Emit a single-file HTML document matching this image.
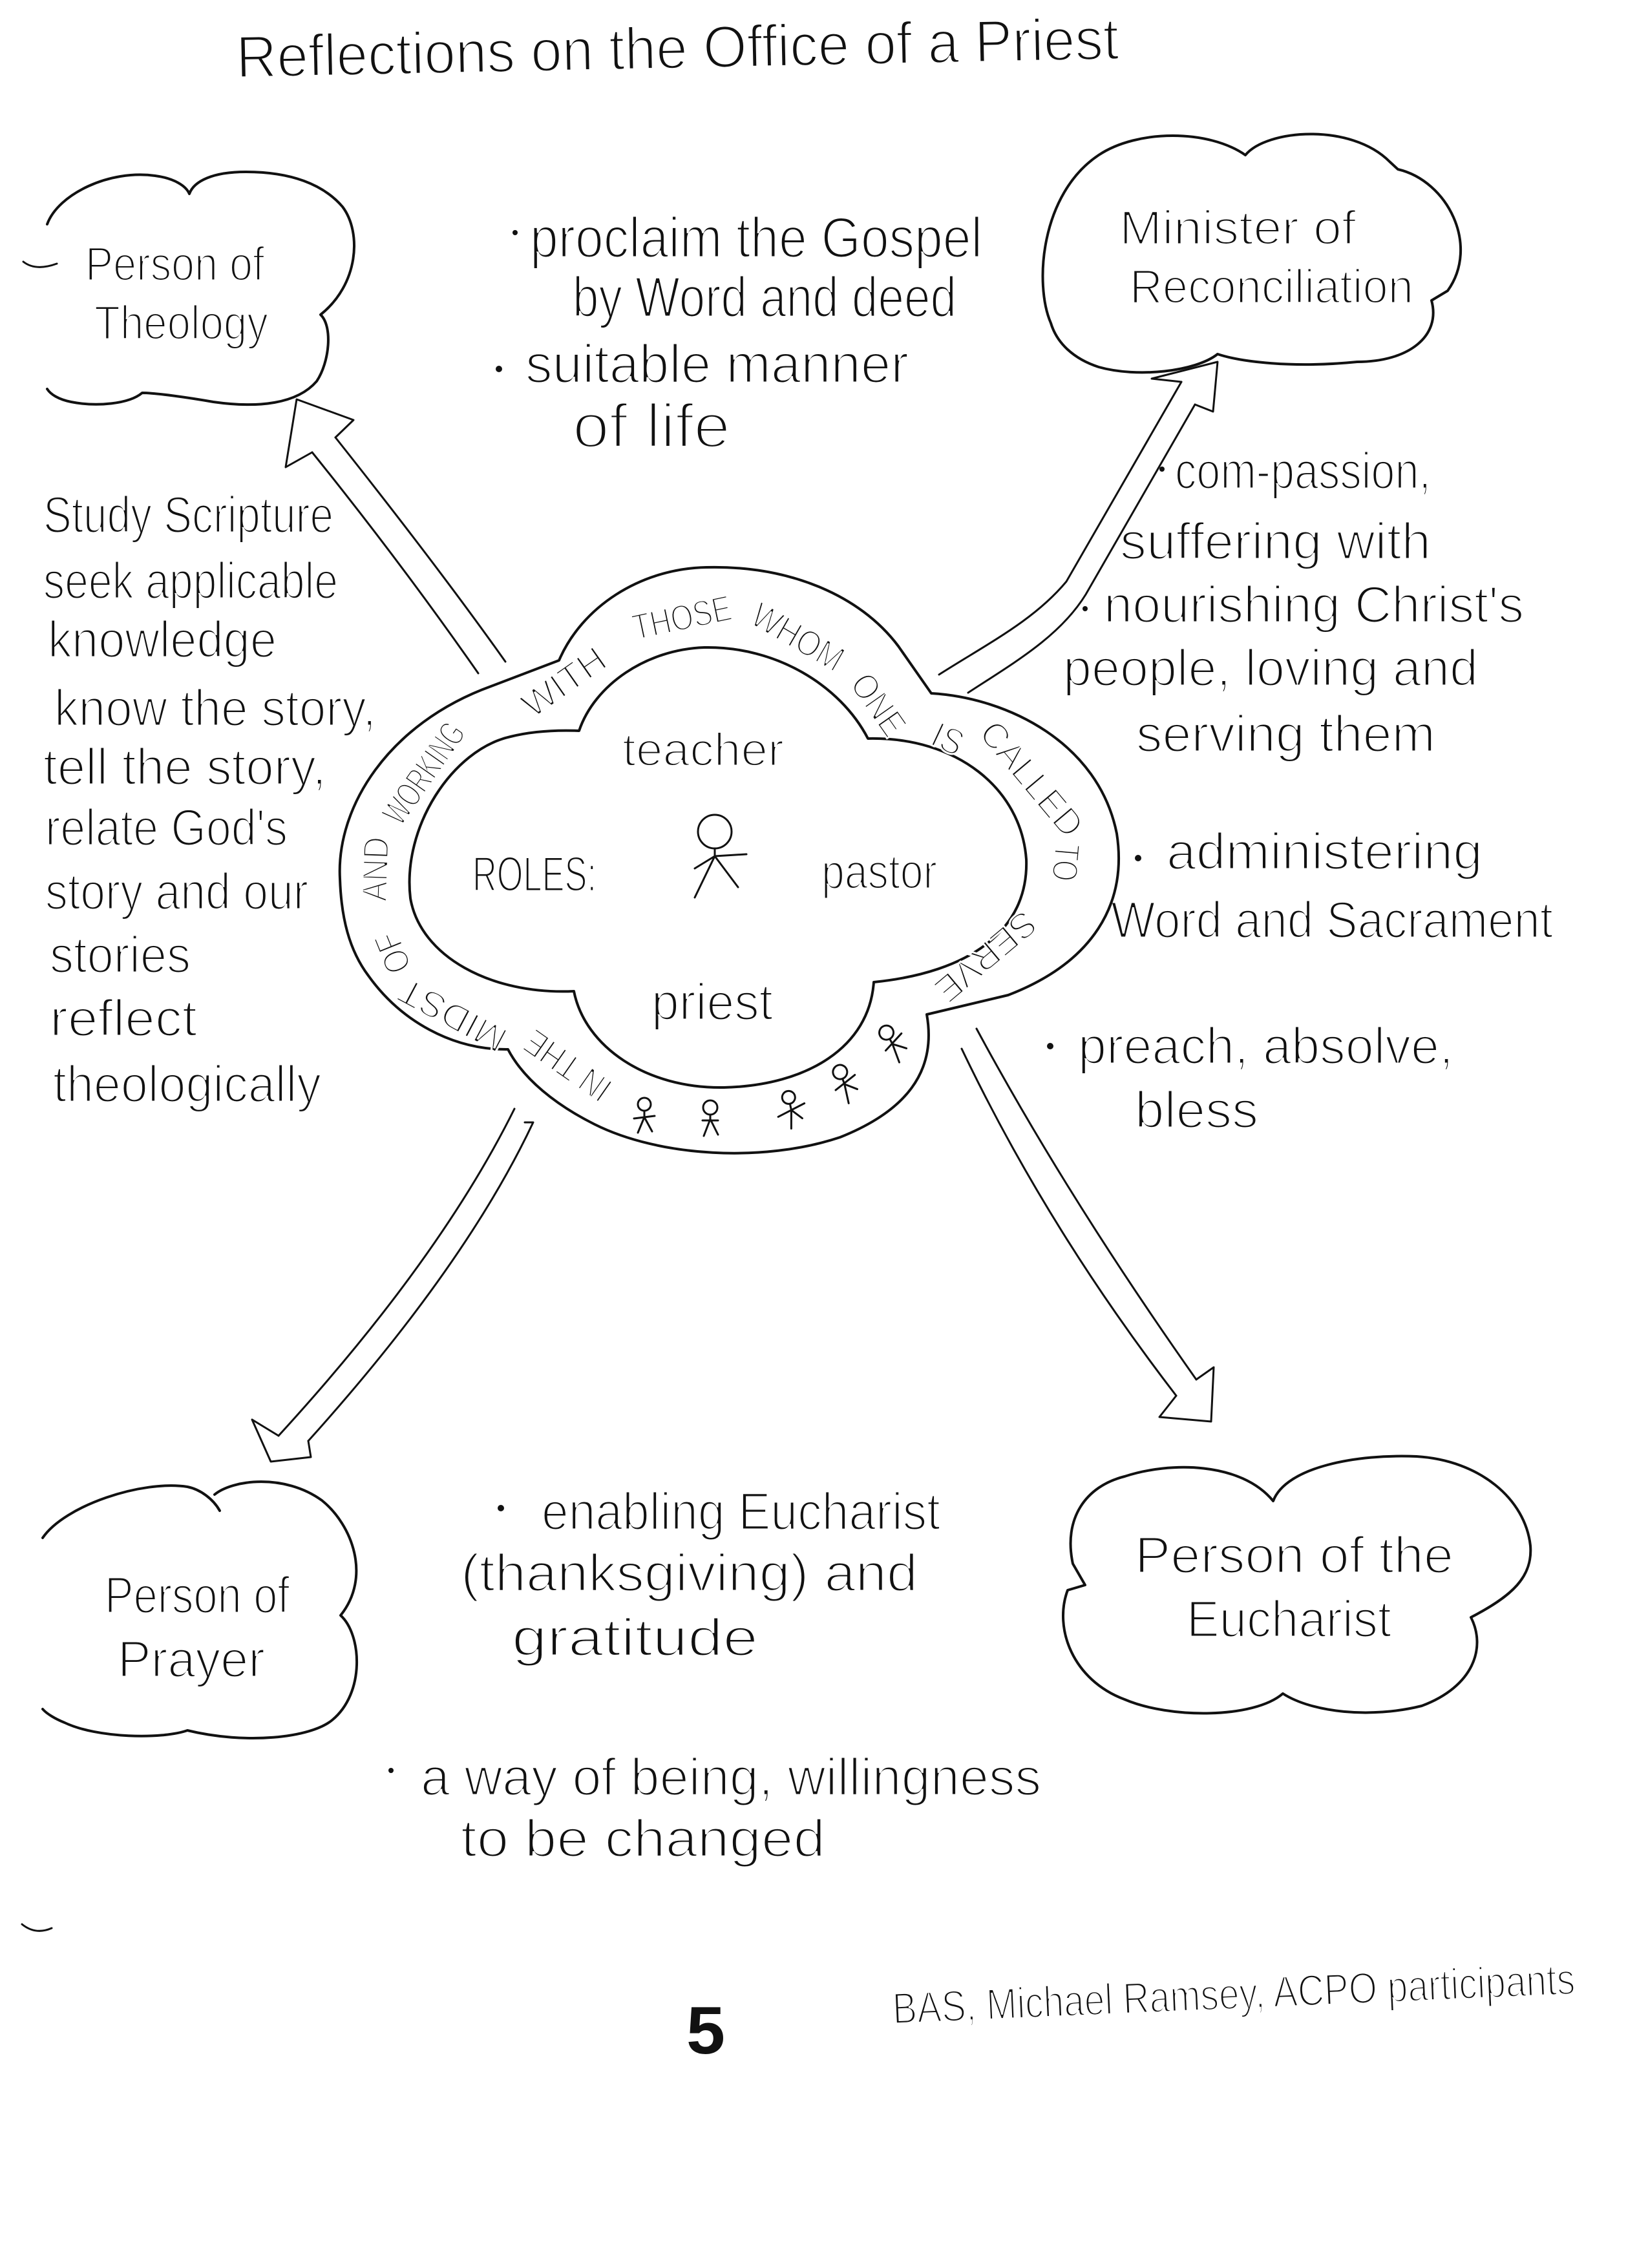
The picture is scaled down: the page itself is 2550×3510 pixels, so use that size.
<!DOCTYPE html>
<html><head><meta charset="utf-8"><style>
html,body{margin:0;padding:0;background:#fff;}
svg{display:block;}
text{font-family:"Liberation Sans",sans-serif;fill:#111;stroke:#fff;stroke-width:3;}
.r{font-size:56px;stroke-width:1.5;}
.ln{fill:none;stroke:#111;stroke-width:4;stroke-linejoin:round;stroke-linecap:round;}
.ar{fill:none;stroke:#111;stroke-width:3;stroke-linejoin:round;stroke-linecap:round;}
</style></head><body>
<svg width="2550" height="3510" viewBox="0 0 2550 3510" xmlns="http://www.w3.org/2000/svg">
<rect width="2550" height="3510" fill="#fff"/>

<!-- Title -->
<text x="366" y="120" font-size="92" textLength="1366" lengthAdjust="spacingAndGlyphs" transform="rotate(-1.2 366 120)">Reflections on the Office of a Priest</text>

<!-- Top-left cloud -->
<path class="ln" d="M73,347 C90,300 170,262 240,272 C270,276 288,288 293,300 C300,280 330,266 380,266 C450,266 500,285 530,320 C560,360 555,440 496,487 C515,505 510,560 490,590 C460,625 400,632 330,622 C290,615 240,608 220,608 C200,625 150,630 110,622 C90,618 78,610 73,602"/>
<path class="ar" d="M36,405 Q55,420 88,408"/>
<text x="132" y="434" font-size="74" textLength="277" lengthAdjust="spacingAndGlyphs">Person of</text>
<text x="146" y="525" font-size="74" textLength="269" lengthAdjust="spacingAndGlyphs">Theology</text>

<!-- Top-right cloud -->
<path class="ln" d="M1626,500 C1600,440 1610,300 1700,240 C1760,200 1870,200 1927,240 C1960,200 2090,190 2150,250 L2163,262 C2240,280 2290,380 2240,450 L2215,465 C2230,520 2180,560 2100,560 C2000,570 1920,560 1884,548 C1850,575 1760,585 1700,568 C1660,555 1635,530 1626,500 Z"/>
<text x="1732" y="378" font-size="74" textLength="366" lengthAdjust="spacingAndGlyphs">Minister of</text>
<text x="1748" y="469" font-size="74" textLength="439" lengthAdjust="spacingAndGlyphs">Reconciliation</text>

<!-- Top centre text -->
<circle cx="797" cy="360" r="4" fill="#111"/>
<text x="820" y="398" font-size="88" textLength="700" lengthAdjust="spacingAndGlyphs">proclaim the Gospel</text>
<text x="886" y="490" font-size="88" textLength="594" lengthAdjust="spacingAndGlyphs">by Word and deed</text>
<circle cx="772" cy="571" r="5" fill="#111"/>
<text x="813" y="592" font-size="84" textLength="593" lengthAdjust="spacingAndGlyphs">suitable manner</text>
<text x="886" y="692" font-size="96" textLength="244" lengthAdjust="spacingAndGlyphs" style="stroke-width:4">of life</text>

<!-- Left column -->
<g font-size="80">
<text x="67" y="824" textLength="449" lengthAdjust="spacingAndGlyphs">Study Scripture</text>
<text x="67" y="926" textLength="456" lengthAdjust="spacingAndGlyphs">seek applicable</text>
<text x="74" y="1017" textLength="354" lengthAdjust="spacingAndGlyphs">knowledge</text>
<text x="84" y="1123" textLength="498" lengthAdjust="spacingAndGlyphs">know the story,</text>
<text x="67" y="1214" textLength="438" lengthAdjust="spacingAndGlyphs">tell the story,</text>
<text x="70" y="1308" textLength="375" lengthAdjust="spacingAndGlyphs">relate God's</text>
<text x="70" y="1407" textLength="407" lengthAdjust="spacingAndGlyphs">story and our</text>
<text x="77" y="1505" textLength="218" lengthAdjust="spacingAndGlyphs">stories</text>
<text x="77" y="1603" textLength="228" lengthAdjust="spacingAndGlyphs">reflect</text>
<text x="82" y="1705" textLength="415" lengthAdjust="spacingAndGlyphs">theologically</text>
</g>

<!-- Right column -->
<g font-size="80">
<circle cx="1798" cy="726" r="4" fill="#111"/>
<text x="1818" y="756" textLength="396" lengthAdjust="spacingAndGlyphs">com-passion,</text>
<text x="1733" y="865" textLength="481" lengthAdjust="spacingAndGlyphs">suffering with</text>
<circle cx="1679" cy="942" r="4" fill="#111"/>
<text x="1708" y="963" textLength="650" lengthAdjust="spacingAndGlyphs">nourishing Christ's</text>
<text x="1645" y="1061" textLength="642" lengthAdjust="spacingAndGlyphs">people, loving and</text>
<text x="1758" y="1163" textLength="463" lengthAdjust="spacingAndGlyphs">serving them</text>
<circle cx="1761" cy="1328" r="5" fill="#111"/>
<text x="1805" y="1345" textLength="489" lengthAdjust="spacingAndGlyphs">administering</text>
<text x="1719" y="1451" textLength="684" lengthAdjust="spacingAndGlyphs">Word and Sacrament</text>
<circle cx="1625" cy="1619" r="5" fill="#111"/>
<text x="1668" y="1646" textLength="581" lengthAdjust="spacingAndGlyphs">preach, absolve,</text>
<text x="1756" y="1745" textLength="191" lengthAdjust="spacingAndGlyphs">bless</text>
</g>

<!-- Arrows -->
<!-- top-left -->
<path class="ar" d="M740,1042 Q620,870 483,700"/>
<path class="ar" d="M782,1024 Q680,880 519,677"/>
<path class="ar" d="M483,700 L442,723 L459,618 L547,650 L519,677"/>
<!-- top-right -->
<path class="ar" d="M1453,1044 C1530,995 1600,960 1650,900 L1828,591"/>
<path class="ar" d="M1498,1072 C1570,1025 1640,985 1680,920 L1849,626"/>
<path class="ar" d="M1828,591 L1782,586 L1884,560 L1877,637 L1849,626"/>
<!-- bottom-left -->
<path class="ar" d="M796,1716 Q680,1950 431,2222"/>
<path class="ar" d="M812,1737 L825,1737 Q720,1960 477,2230"/>
<path class="ar" d="M431,2222 L390,2197 L419,2262 L481,2255 L477,2230"/>
<!-- bottom-right -->
<path class="ar" d="M1488,1623 Q1620,1900 1820,2160"/>
<path class="ar" d="M1511,1592 Q1650,1850 1851,2135"/>
<path class="ar" d="M1820,2160 L1794,2193 L1874,2200 L1878,2116 L1851,2135"/>

<!-- Centre ring -->
<path class="ln" d="M526,1360 C520,1250 600,1120 760,1062 L865,1022 C900,940 990,880 1093,878 C1220,875 1330,920 1390,1000 L1441,1073 C1560,1080 1700,1150 1728,1290 C1745,1400 1690,1490 1560,1540 L1434,1570 C1450,1660 1400,1720 1300,1760 C1180,1800 1020,1790 920,1740 C860,1710 810,1670 786,1624 C700,1625 620,1580 570,1510 C540,1470 528,1420 526,1360 Z"/>
<path class="ln" d="M896,1131 C920,1060 1000,1005 1090,1002 C1200,1000 1300,1060 1343,1143 C1480,1140 1580,1220 1588,1330 C1592,1440 1500,1505 1352,1520 C1345,1620 1250,1680 1120,1683 C1000,1685 905,1620 888,1534 C760,1540 650,1480 635,1390 C622,1280 700,1160 790,1140 C830,1130 870,1130 896,1131 Z"/>

<!-- Ring words -->
<g class="r" text-anchor="middle">
<text transform="translate(878,1650) rotate(-145)" dy="20" textLength="150" lengthAdjust="spacingAndGlyphs">IN THE</text>
<text transform="translate(700,1572) rotate(-152)" dy="20" textLength="180" lengthAdjust="spacingAndGlyphs">MIDST</text>
<text transform="translate(607,1475) rotate(-112)" dy="20" textLength="64" lengthAdjust="spacingAndGlyphs">OF</text>
<text transform="translate(580,1345) rotate(-88)" dy="20" textLength="100" lengthAdjust="spacingAndGlyphs">AND</text>
<text transform="translate(655,1196) rotate(-55)" dy="20" textLength="178" lengthAdjust="spacingAndGlyphs">WORKING</text>
<text transform="translate(872,1055) rotate(-35)" dy="20" textLength="145" lengthAdjust="spacingAndGlyphs">WITH</text>
<text transform="translate(1055,955) rotate(-12)" dy="20" textLength="155" lengthAdjust="spacingAndGlyphs">THOSE</text>
<text transform="translate(1235,985) rotate(30)" dy="20" textLength="155" lengthAdjust="spacingAndGlyphs">WHOM</text>
<text transform="translate(1360,1090) rotate(55)" dy="20" textLength="105" lengthAdjust="spacingAndGlyphs">ONE</text>
<text transform="translate(1467,1143) rotate(25)" dy="20" textLength="48" lengthAdjust="spacingAndGlyphs">IS</text>
<text transform="translate(1597,1205) rotate(50)" dy="20" textLength="215" lengthAdjust="spacingAndGlyphs">CALLED</text>
<text transform="translate(1650,1335) rotate(95)" dy="20" textLength="58" lengthAdjust="spacingAndGlyphs">TO</text>
<text transform="translate(1526,1481) rotate(140)" dy="20" textLength="185" lengthAdjust="spacingAndGlyphs">SERVE</text>
</g>

<!-- small stick figures -->
<g class="ar">
<g transform="translate(997,1727)"><circle cx="0" cy="-18" r="10"/><path d="M0,-8 L0,2 M-16,4 L16,0 M0,2 L-10,26 M0,2 L12,24"/></g>
<g transform="translate(1099,1732)"><circle cx="0" cy="-18" r="11"/><path d="M0,-7 L0,0 M-12,2 L12,2 M0,0 L-10,26 M0,0 L12,24"/></g>
<g transform="translate(1224,1716) rotate(-12)"><circle cx="0" cy="-18" r="10"/><path d="M0,-8 L0,2 M-22,8 L22,-4 M0,2 L-6,30 M0,2 L14,18"/></g>
<g transform="translate(1306,1676) rotate(-20)"><circle cx="0" cy="-18" r="11"/><path d="M0,-7 L0,2 M-16,6 L20,-6 M0,2 L-4,32 M0,2 L16,16"/></g>
<g transform="translate(1380,1614) rotate(-28)"><circle cx="0" cy="-18" r="11"/><path d="M0,-7 L0,2 M-14,6 L20,-6 M0,2 L-4,32 M0,2 L16,18"/></g>
</g>

<!-- Inner cloud content -->
<text x="963" y="1185" font-size="72" textLength="250" lengthAdjust="spacingAndGlyphs">teacher</text>
<text x="731" y="1379" font-size="76" textLength="192" lengthAdjust="spacingAndGlyphs">ROLES:</text>
<text x="1271" y="1375" font-size="76" textLength="179" lengthAdjust="spacingAndGlyphs">pastor</text>
<text x="1008" y="1578" font-size="80" textLength="188" lengthAdjust="spacingAndGlyphs">priest</text>
<g class="ar">
<circle cx="1106" cy="1287" r="26"/>
<path d="M1106,1313 L1106,1325 M1075,1344 L1106,1325 L1155,1322 M1106,1325 L1075,1389 M1106,1325 L1142,1373"/>
</g>

<!-- Bottom-left cloud -->
<path class="ln" d="M66,2380 C100,2330 220,2290 290,2301 C310,2305 330,2320 340,2338"/>
<path class="ln" d="M332,2313 C360,2290 440,2280 498,2322 C545,2360 575,2440 527,2500 C560,2530 565,2620 514,2662 C480,2690 380,2700 290,2678 C250,2692 150,2690 100,2666 C85,2660 72,2652 66,2645"/>
<text x="162" y="2496" font-size="80" textLength="286" lengthAdjust="spacingAndGlyphs">Person of</text>
<text x="182" y="2595" font-size="80" textLength="228" lengthAdjust="spacingAndGlyphs">Prayer</text>

<!-- Bottom-middle text -->
<g font-size="82">
<circle cx="775" cy="2334" r="5" fill="#111"/>
<text x="838" y="2367" textLength="617" lengthAdjust="spacingAndGlyphs">enabling Eucharist</text>
<text x="713" y="2462" textLength="707" lengthAdjust="spacingAndGlyphs">(thanksgiving) and</text>
<text x="792" y="2562" textLength="381" lengthAdjust="spacingAndGlyphs">gratitude</text>
<circle cx="605" cy="2740" r="4" fill="#111"/>
<text x="651" y="2778" textLength="960" lengthAdjust="spacingAndGlyphs">a way of being, willingness</text>
<text x="713" y="2873" textLength="564" lengthAdjust="spacingAndGlyphs">to be changed</text>
</g>

<!-- Bottom-right cloud -->
<path class="ln" d="M1679,2453 L1660,2420 C1645,2350 1680,2300 1740,2285 C1810,2262 1920,2262 1970,2323 C1990,2270 2100,2250 2192,2254 C2290,2260 2360,2320 2368,2392 C2372,2440 2340,2470 2276,2503 C2300,2550 2280,2610 2200,2640 C2120,2660 2030,2650 1985,2621 C1940,2660 1810,2660 1740,2630 C1660,2600 1630,2520 1652,2461 Z"/>
<text x="1756" y="2434" font-size="80" textLength="493" lengthAdjust="spacingAndGlyphs">Person of the</text>
<text x="1836" y="2533" font-size="80" textLength="317" lengthAdjust="spacingAndGlyphs">Eucharist</text>

<!-- Footer -->
<path class="ar" d="M34,2978 Q55,2995 80,2984"/>
<text x="1062" y="3178" font-size="104" font-weight="bold" textLength="60" lengthAdjust="spacingAndGlyphs" style="stroke-width:0">5</text>
<text x="1382" y="3132" font-size="68" textLength="1057" lengthAdjust="spacingAndGlyphs" transform="rotate(-2.5 1382 3132)">BAS, Michael Ramsey, ACPO participants</text>
</svg>
</body></html>
